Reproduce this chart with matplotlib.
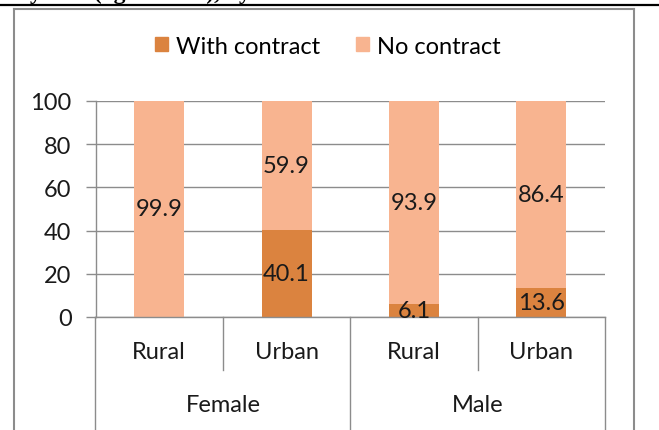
import matplotlib
matplotlib.use('Agg')
import matplotlib.pyplot as plt
from matplotlib.lines import Line2D
from matplotlib.patches import Patch

# ---- data ----
locations = ['Rural', 'Urban', 'Rural', 'Urban']
groups = ['Female', 'Male']
with_contract = [0.1, 40.1, 6.1, 13.6]
no_contract = [99.9, 59.9, 93.9, 86.4]
yticks = [0, 20, 40, 60, 80, 100]
series_labels = ['With contract', 'No contract']
title_text = 'youth (ages 15-24), by location'

c_with = '#DB833F'
c_no = '#F8B490'
gray = '#8C8C8C'
FONT = 'Lato'
FS = 17

W, H = 659, 431
fig = plt.figure(figsize=(W / 100, H / 100), dpi=100)


def px(x0, y0, x1, y1):
    return [x0 / W, 1 - y1 / H, (x1 - x0) / W, (y1 - y0) / H]


ax = fig.add_axes(px(95.5, 102, 605, 318))
x = list(range(len(locations)))
bw = 0.393
ax.bar(x, with_contract, width=bw, color=c_with, zorder=2)
ax.bar(x, no_contract, width=bw, bottom=with_contract, color=c_no, zorder=2)

for i in x:
    if with_contract[i] >= 1:
        ax.text(i, with_contract[i] / 2, f'{with_contract[i]:.1f}', ha='center', va='center',
                fontsize=FS, fontfamily=FONT, color='#1a1a1a', zorder=3)
    ax.text(i, with_contract[i] + no_contract[i] / 2, f'{no_contract[i]:.1f}', ha='center',
            va='center', fontsize=FS, fontfamily=FONT, color='#1a1a1a', zorder=3)

ax.set_xlim(-0.5, len(locations) - 0.5)
ax.set_ylim(0, 100)
ax.set_yticks(yticks)
ax.set_yticklabels([str(t) for t in yticks], fontsize=FS, fontfamily=FONT, color='#1a1a1a')
ax.yaxis.grid(True, color=gray, lw=1)
ax.set_axisbelow(True)
ax.set_xticks([])
for s in ['top', 'right']:
    ax.spines[s].set_visible(False)
for s in ['left', 'bottom']:
    ax.spines[s].set_color(gray)
    ax.spines[s].set_linewidth(1)
ax.tick_params(axis='y', length=7.2, width=1, color=gray, pad=10)

# multi-level category axis
tr = ax.get_xaxis_transform()
for xb in [0.5, 2.5]:
    ax.plot([xb, xb], [0, -0.245], transform=tr, color=gray, lw=1, clip_on=False)
for xb in [-0.5, 1.5, 3.5]:
    ax.plot([xb, xb], [0, -0.7], transform=tr, color=gray, lw=1, clip_on=False)
for i, lab in enumerate(locations):
    ax.text(i, -0.162, lab, transform=tr, ha='center', va='center', fontsize=FS,
            fontfamily=FONT, color='#1a1a1a')
for g, lab in enumerate(groups):
    ax.text(2 * g + 0.5, -0.403, lab, transform=tr, ha='center', va='center', fontsize=FS,
            fontfamily=FONT, color='#1a1a1a')

# legend
handles = [Patch(color=c_with), Patch(color=c_no)]
fig.legend(handles, series_labels, loc='center', bbox_to_anchor=(328 / W, 1 - 47 / H), ncol=2,
           frameon=False, handlelength=0.55, handleheight=0.55, handletextpad=0.35,
           columnspacing=1.5, prop={'family': FONT, 'size': FS})

# chart frame and page elements
fig.add_artist(Line2D([14 / W, 14 / W], [0, 1 - 10 / H], color=gray, lw=1.5))
fig.add_artist(Line2D([634 / W, 634 / W], [0, 1 - 10 / H], color=gray, lw=1.5))
fig.add_artist(Line2D([14 / W, 634 / W], [1 - 10 / H, 1 - 10 / H], color=gray, lw=1.5))
fig.add_artist(Line2D([0, 1], [1 - 6 / H, 1 - 6 / H], color='black', lw=1.6))
fig.text(30 / W, 1 + 1 / H, title_text, fontfamily='Liberation Serif', fontweight='bold',
         fontsize=17, va='baseline', ha='left')

fig.savefig('out.png', dpi=100)
